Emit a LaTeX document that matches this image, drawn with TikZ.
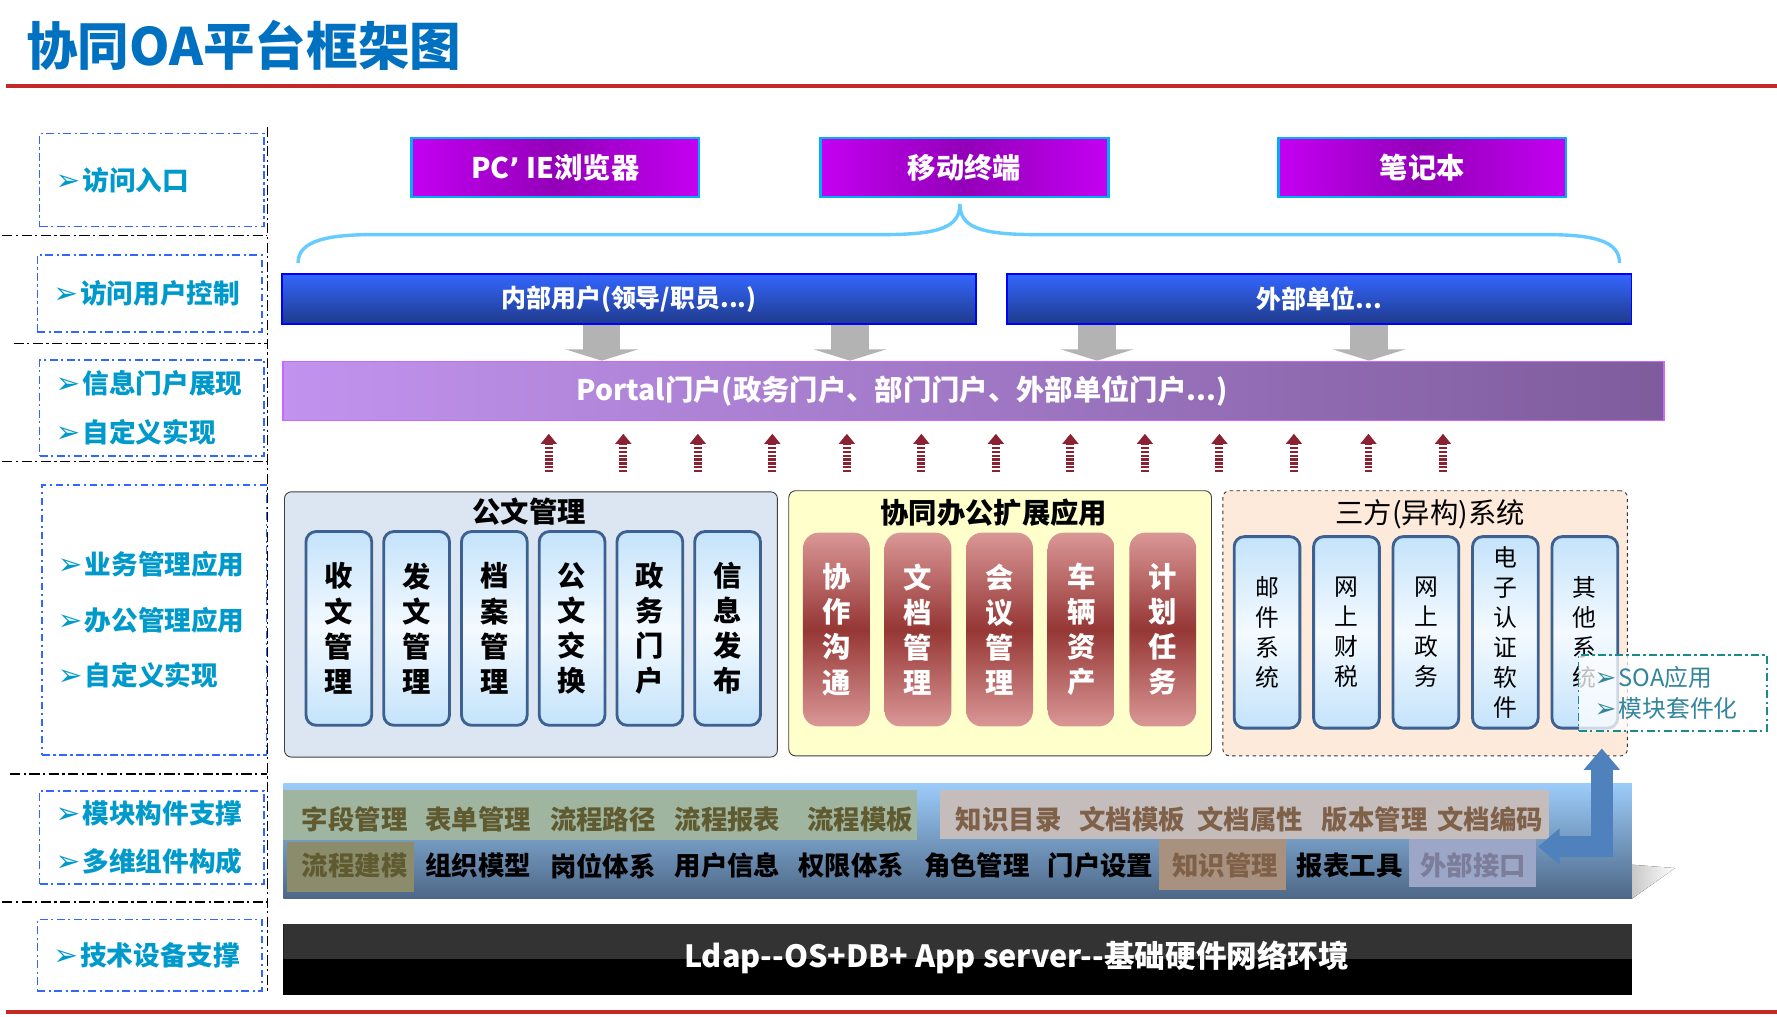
\documentclass[tikz,border=0pt]{standalone}
\usepackage{fontspec}
\setmainfont{Noto Sans CJK SC}
\newfontfamily\symfont{DejaVu Sans}
\usepackage{xcolor}
\usetikzlibrary{arrows.meta, positioning, calc}

\definecolor{titleBlue}{HTML}{0070C0}
\definecolor{lineRed}{HTML}{C62828}
\definecolor{labelBlue}{HTML}{0099CC}
\definecolor{dashBlue}{HTML}{3366FF}
\definecolor{devMag}{HTML}{C400F2}
\definecolor{devDark}{HTML}{9300B8}
\definecolor{devEdge}{HTML}{00B0F0}
\definecolor{userTop}{HTML}{3366FF}
\definecolor{userBot}{HTML}{1F3A8A}
\definecolor{portalL}{HTML}{C293EE}
\definecolor{portalR}{HTML}{7E5C9C}
\definecolor{portalEdge}{HTML}{CC66FF}
\definecolor{braceBlue}{HTML}{66CCFF}
\definecolor{arrowGray}{HTML}{B3B3B3}
\definecolor{upRed}{HTML}{8B2232}
\definecolor{docFill}{HTML}{DCE6F2}
\definecolor{colFill}{HTML}{FFFFCC}
\definecolor{extFill}{HTML}{FDEADA}
\definecolor{pilEdge}{HTML}{3C6090}
\definecolor{pilTop}{HTML}{C4E3FB}
\definecolor{pilMid}{HTML}{F4FAFF}
\definecolor{redTop}{HTML}{DA9796}
\definecolor{redMid}{HTML}{953735}
\definecolor{soaTeal}{HTML}{1B8A8A}
\definecolor{soaText}{HTML}{31859C}
\definecolor{backArrow}{HTML}{4F81BD}
\definecolor{layTop}{HTML}{9CCCFA}
\definecolor{layBot}{HTML}{4D6786}
\definecolor{flowFill}{HTML}{9FB59F}
\definecolor{flowText}{HTML}{5F5A30}
\definecolor{flowDark}{HTML}{8A8C6C}
\definecolor{knowFill}{HTML}{C4BDBC}
\definecolor{knowDark}{HTML}{A8917E}
\definecolor{knowText}{HTML}{7F6048}
\definecolor{apiFill}{HTML}{9CA7C8}
\definecolor{apiText}{HTML}{7B7D99}
\definecolor{baseGray}{HTML}{333333}

\newcommand{\bul}[1][26]{{\symfont\fontsize{#1}{#1}\selectfont ➢}\hspace{2pt}}

\begin{document}
\begin{tikzpicture}[x=1pt, y=-1pt,
    sepline/.style={line width=1.3pt, dash pattern=on 9pt off 3pt on 2pt off 3pt},
    lbox/.style={draw=dashBlue, line width=1.3pt, dash pattern=on 7pt off 3pt on 2pt off 3pt,
                 minimum width=198pt, inner xsep=14pt, text width=170pt, align=left,
                 text=labelBlue, font=\bfseries\fontsize{23.5}{43}\selectfont},
    dev/.style={draw=devEdge, line width=2pt, minimum width=254pt, minimum height=52pt,
                left color=devMag, right color=devMag, middle color=devDark,
                text=white, font=\bfseries\fontsize{25}{25}\selectfont},
    ubar/.style={draw=blue, line width=1.5pt, minimum height=44pt, top color=userTop,
                 bottom color=userBot, text=white, font=\bfseries\fontsize{22}{22}\selectfont},
    garrow/.style={arrowGray, line width=33pt, -{Triangle[length=10pt, width=64pt]}},
    uparrow/.style={upRed, line width=7pt, dash pattern=on 2pt off 1.4pt,
                    -{Triangle[length=9pt, width=14pt]}},
    grp/.style={rounded corners=6pt, line width=0.8pt, minimum height=234pt},
    gtitle/.style={inner sep=0pt, font=\bfseries\fontsize{25}{25}\selectfont},
    bpil/.style={draw=pilEdge, line width=2.5pt, rounded corners=9pt, top color=pilTop,
                 bottom color=pilTop, middle color=pilMid, minimum width=58pt,
                 minimum height=171pt, inner sep=0pt, align=center,
                 font=\bfseries\fontsize{25}{31}\selectfont},
    rpil/.style={rounded corners=14pt, top color=redTop, bottom color=redTop, middle color=redMid,
                 minimum width=59pt, minimum height=171pt, inner sep=0pt, align=center,
                 text=white, font=\bfseries\fontsize{25}{31}\selectfont},
    epil/.style={bpil, minimum height=169pt, font=\fontsize{21}{26.5}\selectfont},
    hl/.style={inner sep=0pt, minimum height=44pt},
    word/.style={inner sep=0pt, font=\bfseries\fontsize{23.3}{23.3}\selectfont}]
  \fill[white] (0,0) rectangle (1568,897);
  \useasboundingbox (0,0) rectangle (1568,897);
  % title and red rules
  \node[anchor=west, inner sep=0pt, text=titleBlue, font=\bfseries\fontsize{45.5}{45.5}\selectfont] (title) at (23,40) {协同OA平台框架图};
  \draw[lineRed, line width=4pt] (5,76) -- (1568,76);
  \draw[lineRed, line width=4pt] (5,893) -- (1568,893);
  % left column
  \draw[sepline] (236,112) -- (236,876);
  \draw[sepline] (2,208) -- (236,208);
  \draw[sepline] (12,303) -- (236,303);
  \draw[sepline] (2,407) -- (236,407);
  \draw[sepline] (9,683) -- (236,683);
  \draw[sepline] (2,796) -- (236,796);
  \node[lbox, minimum height=82pt] (entry) at (134,159) {\bul 访问入口};
  \node[lbox, minimum height=68pt] (userctl) at (132,259) {\bul 访问用户控制};
  \node[lbox, minimum height=85pt] (portalshow) at (134,360) {\bul 信息门户展现\\ \bul 自定义实现};
  \node[lbox, minimum height=238pt, font=\bfseries\fontsize{23.5}{49}\selectfont] (apps) at (136,547) {\bul 业务管理应用\\ \bul 办公管理应用\\ \bul 自定义实现};
  \node[lbox, minimum height=82pt] (modules) at (134,739) {\bul 模块构件支撑\\ \bul 多维组件构成};
  \node[lbox, minimum height=63pt] (tech) at (132,843) {\bul 技术设备支撑};
  % access devices
  \node[dev] (pc) at (490,148) {PC{\symfont ’} IE浏览器};
  \node[dev] (mobile) at (851,148) {移动终端};
  \node[dev] (laptop) at (1255,148) {笔记本};
  \draw[braceBlue, line width=3pt] (263,232) .. controls (263,212) and (290,207) .. (330,207)
    -- (780,207) .. controls (830,207) and (847,200) .. (847,180)
    .. controls (847,200) and (864,207) .. (914,207) -- (1363,207)
    .. controls (1405,207) and (1429,212) .. (1429,232);
  % users
  \node[ubar, minimum width=612pt] (inner) at (555,264) {内部用户(领导/职员...)};
  \node[ubar, minimum width=551pt] (outer) at (1164,264) {外部单位...};
  \node[draw=portalEdge, line width=1.5pt, left color=portalL, right color=portalR,
        minimum width=1218pt, minimum height=52pt] (portal) at (859,345) {};
  \node[text=white, font=\bfseries\fontsize{25}{25}\selectfont] (portaltxt) at (796,345) {Portal门户(政务门户、部门门户、外部单位门户...)};
  \draw[garrow] ([xshift=-24pt]inner.south) -- ([xshift=-24pt]inner.south |- portal.north);
  \draw[garrow] ([xshift=195pt]inner.south) -- ([xshift=195pt]inner.south |- portal.north);
  \draw[garrow] ([xshift=-196pt]outer.south) -- ([xshift=-196pt]outer.south |- portal.north);
  \draw[garrow] ([xshift=44pt]outer.south) -- ([xshift=44pt]outer.south |- portal.north);
  \foreach \i in {0,...,12}
    \draw[uparrow] ([xshift=235pt+65.75pt*\i, yshift=-45pt]portal.south west) -- ++(0,-34);
  % application groups
  \node[grp, draw=black!75, fill=docFill, minimum width=435pt] (g1) at (468.5,551) {};
  \node[gtitle] (g1t) at (467,451) {公文管理};
  \foreach \txt [count=\i] in {收\\文\\管\\理, 发\\文\\管\\理, 档\\案\\管\\理, 公\\文\\交\\换, 政\\务\\门\\户, 信\\息\\发\\布}
    \node[bpil] (doc\i) at (299+68.6*\i-68.6,554.5) {\txt};
  \node[grp, draw=black!75, fill=colFill, minimum width=373pt] (g2) at (882.5,550) {};
  \node[gtitle] (g2t) at (877,452) {协同办公扩展应用};
  \foreach \txt [count=\i] in {协\\作\\沟\\通, 文\\档\\管\\理, 会\\议\\管\\理, 车\\辆\\资\\产, 计\\划\\任\\务}
    \node[rpil] (col\i) at (738+72*\i-72,555.5) {\txt};
  \node[grp, draw=black!80, dashed, fill=extFill, minimum width=357pt] (g3) at (1257.5,550) {};
  \node[gtitle, font=\fontsize{25}{25}\selectfont] (g3t) at (1262,454) {三方(异构)系统};
  \foreach \txt [count=\i] in {邮\\件\\系\\统, 网\\上\\财\\税, 网\\上\\政\\务, 电\\子\\认\\证\\软\\件, 其\\他\\系\\统}
    \node[epil] (ext\i) at (1118+70.1*\i-70.1,558) {\txt};
  \node[draw=soaTeal, line width=1.3pt, dash pattern=on 7pt off 3pt on 2pt off 3pt,
        fill=white, fill opacity=0.75, text opacity=1, text=soaText,
        minimum width=166pt, minimum height=67pt, inner xsep=14pt, text width=138pt,
        align=left, font=\fontsize{21}{27}\selectfont] (soa) at (1476,611.5) {\bul[23]SOA应用\\ \bul[23]模块套件化};
  % module layer
  \fill[left color=black!22, right color=white] (1440,763) -- (1478,766) -- (1440,793) -- cycle;
  \node[top color=layTop, bottom color=layBot, minimum width=1190pt, minimum height=102pt,
        inner sep=0pt] (layer) at (845,742) {};
  \node[hl, fill=flowFill, minimum width=559pt] (flowbox) at (529.5,719) {};
  \node[hl, fill=knowFill, minimum width=538pt, minimum height=43pt] (knowbox) at (1098,718.5) {};
  \node[hl, fill=flowDark, minimum width=112pt] (flowmod) at (309,765) {};
  \node[hl, fill=knowDark, minimum width=112pt, minimum height=45pt] (knowmgr) at (1079,762.5) {};
  \node[hl, fill=apiFill, minimum width=112pt, minimum height=43pt] (apibox) at (1299,761.5) {};
  \foreach \x/\w in {313/字段管理, 422/表单管理, 532/流程路径, 642/流程报表, 759/流程模板}
    \node[word, text=flowText] (ra\x) at (\x,723) {\w};
  \foreach \x/\w in {890/知识目录, 999/文档模板, 1103/文档属性, 1213/版本管理, 1315/文档编码}
    \node[word, text=knowText] (ra\x) at (\x,723) {\w};
  \node[word, text=flowText] (rb313) at (313,764) {流程建模};
  \foreach \x/\w in {422/组织模型, 532/岗位体系, 642/用户信息, 751/权限体系, 862/角色管理, 971/门户设置, 1191/报表工具}
    \node[word] (rb\x) at (\x,764) {\w};
  \node[word, text=knowText] (rb1081) at (1081,764) {知识管理};
  \node[word, text=apiText] (rb1300) at (1300,764) {外部接口};
  \coordinate (lstart) at ([xshift=-83pt, yshift=-5pt]layer.east);
  \coordinate (lend) at ([xshift=-23pt, yshift=7pt]g3.south east);
  \draw[backArrow, line width=19pt, line join=miter,
        {Triangle[length=19pt, width=31pt]}-{Triangle[length=19pt, width=31pt]}]
    (lstart) -- (lend |- lstart) -- (lend);
  % base platform
  \node[fill=black, minimum width=1190pt, minimum height=63pt, inner sep=0pt,
        path picture={\fill[baseGray] (path picture bounding box.north west) rectangle (path picture bounding box.east);}] (base) at (845,846.5) {};
  \node[text=white, font=\bfseries\fontsize{27}{27}\selectfont] (basetxt) at (897,845) {Ldap{-}{-}OS+DB+ App server{-}{-}基础硬件网络环境};
\end{tikzpicture}
\end{document}
